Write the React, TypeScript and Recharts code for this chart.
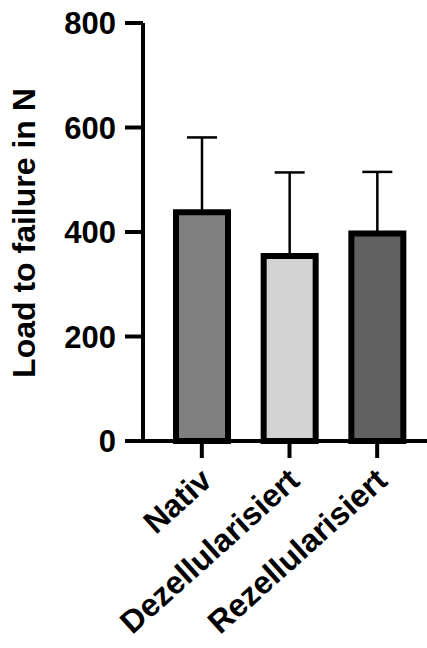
import { BarChart, Bar, XAxis, YAxis, ErrorBar, Cell } from 'recharts'

const groups = ['Nativ', 'Dezellularisiert', 'Rezellularisiert']
const means = [438, 354, 397]
const sdUpper = [143, 160, 118]
const fills = ['#808080', '#d3d3d3', '#616161']
const yTicks = [0, 200, 400, 600, 800]

const data = groups.map((g, i) => ({ group: g, load: means[i], err: [0, sdUpper[i]] }))

const FONT = '"Liberation Sans", Arial, sans-serif'

function GroupTick({ x, y, payload }: any) {
  const ax = x + 12
  const ay = y + 25
  return (
    <text
      x={ax}
      y={ay}
      transform={`rotate(-42 ${ax} ${ay})`}
      textAnchor="end"
      fontFamily={FONT}
      fontWeight={700}
      fontSize={32}
      fill="#000"
    >
      {payload.value}
    </text>
  )
}

function AxisTitle() {
  return (
    <text
      x={35}
      y={233}
      transform="rotate(-90 35 233)"
      textAnchor="middle"
      fontFamily={FONT}
      fontWeight={700}
      fontSize={32}
      fill="#000"
    >
      Load to failure in N
    </text>
  )
}

export default function App() {
  return (
    <div style={{ position: 'absolute', left: 0, top: 0, width: 427, height: 648, background: '#fff' }}>
      <BarChart
        width={427}
        height={648}
        data={data}
        margin={{ top: 23, right: 0, bottom: 7, left: 0 }}
      >
        <XAxis
          dataKey="group"
          height={200}
          padding={{ left: 15, right: 6 }}
          axisLine={{ stroke: '#000', strokeWidth: 4 }}
          tickLine={{ stroke: '#000', strokeWidth: 4 }}
          tickSize={17}
          tickMargin={0}
          interval={0}
          tick={<GroupTick />}
        />
        <YAxis
          width={143}
          domain={[0, 800]}
          ticks={yTicks}
          axisLine={{ stroke: '#000', strokeWidth: 4 }}
          tickLine={{ stroke: '#000', strokeWidth: 4 }}
          tickSize={18}
          tickMargin={9}
          tick={{ fontFamily: FONT, fontWeight: 700, fontSize: 31, fill: '#000' }}
          label={<AxisTitle />}
        />
        <Bar
          dataKey="load"
          barSize={52}
          stroke="#000"
          strokeWidth={6}
          isAnimationActive={false}
        >
          {data.map((d, i) => (
            <Cell key={d.group} fill={fills[i]} />
          ))}
          <ErrorBar
            dataKey="err"
            direction="y"
            width={15}
            stroke="#000"
            strokeWidth={2.5}
            isAnimationActive={false}
          />
        </Bar>
      </BarChart>
    </div>
  )
}
